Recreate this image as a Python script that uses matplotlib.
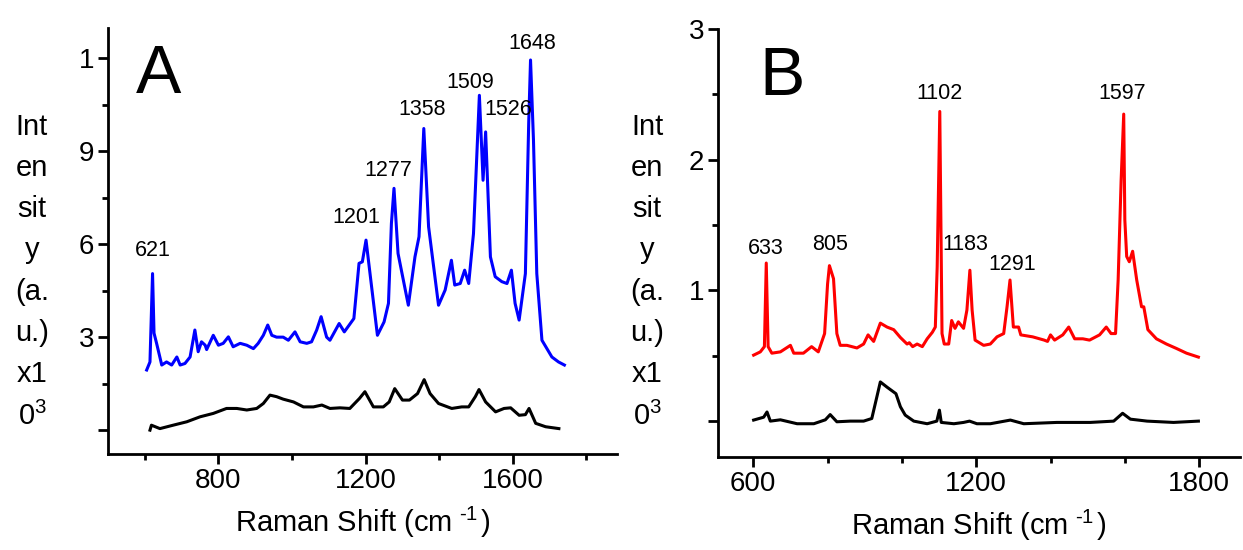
import numpy as np
import matplotlib
matplotlib.use("Agg")
import matplotlib.pyplot as plt

plt.rcParams['font.family'] = ['Liberation Sans', 'DejaVu Sans']
plt.rcParams['mathtext.fontset'] = 'custom'
plt.rcParams['mathtext.rm'] = 'Liberation Sans'
plt.rcParams['mathtext.it'] = 'Liberation Sans'

# ---- panel A: sample (blue) and reference (black), intensity x10^3 ----
a_blue_x = [605, 614, 621, 625, 632, 646, 659, 673, 687, 696, 709, 723, 736, 745, 754, 764, 768,
            786, 800, 813, 827, 840, 859, 877, 895, 908, 922, 934, 945, 958, 976, 990, 1008, 1022,
            1040, 1053, 1067, 1079, 1094, 1103, 1128, 1142, 1168, 1182, 1191, 1201, 1214, 1232,
            1250, 1262, 1270, 1277, 1288, 1316, 1334, 1345, 1358, 1371, 1398, 1416, 1433, 1442,
            1457, 1469, 1480, 1493, 1509, 1519, 1526, 1539, 1552, 1570, 1584, 1596, 1606, 1617,
            1634, 1643, 1648, 1656, 1665, 1679, 1706, 1724, 1740]
a_blue_y = [1.94, 2.2, 5.05, 3.13, 2.8, 2.1, 2.2, 2.1, 2.36, 2.1, 2.15, 2.36, 3.23, 2.53, 2.85, 2.74,
            2.6, 3.06, 2.74, 2.8, 3.01, 2.69, 2.8, 2.74, 2.63, 2.8, 3.06, 3.39, 3.06, 3.0, 3.0, 2.9,
            3.17, 2.85, 2.8, 2.85, 3.23, 3.66, 3.0, 2.9, 3.44, 3.17, 3.6, 5.38, 5.43, 6.13, 4.84,
            3.06, 3.49, 4.09, 6.67, 7.8, 5.7, 4.03, 5.59, 6.24, 9.73, 6.56, 4.03, 4.52, 5.48, 4.68,
            4.73, 5.16, 4.73, 6.34, 10.8, 8.06, 9.62, 5.59, 4.95, 4.79, 4.73, 5.16, 4.09, 3.55,
            5.05, 9.9, 11.94, 9.35, 5.05, 2.9, 2.36, 2.2, 2.1]
a_black_x = [614, 618, 641, 677, 714, 750, 786, 822, 850, 877, 904, 922, 940, 958, 976, 1004, 1031,
             1058, 1081, 1103, 1130, 1157, 1183, 1198, 1221, 1248, 1264, 1279, 1300, 1319, 1341,
             1359, 1375, 1398, 1434, 1461, 1480, 1498, 1508, 1526, 1553, 1576, 1594, 1617, 1634,
             1644, 1662, 1689, 1725]
a_black_y = [0.0, 0.16, 0.05, 0.16, 0.27, 0.43, 0.54, 0.7, 0.7, 0.65, 0.7, 0.86, 1.13, 1.08, 1.0,
             0.91, 0.75, 0.75, 0.81, 0.7, 0.72, 0.7, 1.02, 1.24, 0.75, 0.75, 0.91, 1.34, 0.97,
             0.97, 1.18, 1.63, 1.18, 0.86, 0.7, 0.75, 0.75, 1.08, 1.31, 0.91, 0.59, 0.7, 0.72,
             0.48, 0.5, 0.7, 0.22, 0.11, 0.05]
a_peaks = ["621", "1201", "1277", "1358", "1509", "1526", "1648"]
a_peak_x = [621, 1174, 1261, 1353, 1484, 1587, 1653]
a_peak_y = [5.81, 6.87, 8.37, 10.35, 11.2, 10.35, 12.48]

# ---- panel B ----
b_red_x = [601, 619, 630, 635, 640, 650, 673, 700, 709, 735, 757, 775, 792, 800, 805, 816, 825,
           834, 852, 879, 897, 909, 924, 933, 942, 960, 978, 996, 1014, 1020, 1029, 1041, 1055,
           1068, 1082, 1090, 1095, 1102, 1108, 1114, 1126, 1134, 1143, 1152, 1166, 1175, 1183,
           1189, 1197, 1220, 1238, 1256, 1274, 1283, 1291, 1300, 1314, 1320, 1352, 1383, 1392,
           1400, 1411, 1433, 1449, 1465, 1487, 1505, 1532, 1550, 1563, 1575, 1582, 1590, 1597,
           1600, 1605, 1612, 1621, 1632, 1645, 1651, 1662, 1685, 1712, 1739, 1766, 1798]
b_red_y = [0.505, 0.53, 0.57, 1.21, 0.57, 0.52, 0.53, 0.58, 0.52, 0.52, 0.57, 0.53, 0.67, 1.05,
           1.19, 1.09, 0.67, 0.58, 0.58, 0.56, 0.59, 0.66, 0.61, 0.68, 0.75, 0.72, 0.70, 0.64,
           0.59, 0.6, 0.57, 0.59, 0.57, 0.63, 0.68, 0.72, 1.18, 2.37, 0.67, 0.59, 0.59, 0.77,
           0.71, 0.76, 0.71, 0.85, 1.155, 0.85, 0.62, 0.58, 0.59, 0.645, 0.67, 0.875, 1.08,
           0.72, 0.72, 0.66, 0.645, 0.62, 0.61, 0.66, 0.62, 0.66, 0.72, 0.63, 0.63, 0.62, 0.66,
           0.72, 0.67, 0.67, 1.08, 1.84, 2.35, 1.54, 1.26, 1.22, 1.3, 1.08, 0.875, 0.875, 0.70,
           0.63, 0.59, 0.556, 0.52, 0.49]
b_black_x = [601, 628, 637, 646, 673, 718, 763, 794, 807, 825, 861, 897, 919, 933, 942, 960, 984,
             996, 1009, 1032, 1068, 1094, 1101, 1106, 1140, 1166, 1182, 1202, 1238, 1292, 1328,
             1417, 1507, 1570, 1594, 1615, 1660, 1731, 1798]
b_black_y = [0.008, 0.03, 0.07, 0.0, 0.01, -0.02, -0.02, 0.01, 0.05, -0.005, 0.0, 0.0, 0.02, 0.19,
             0.30, 0.26, 0.21, 0.11, 0.046, 0.0, -0.02, 0.0, 0.084, -0.01, -0.02, -0.01, 0.0,
             -0.02, -0.02, 0.008, -0.02, -0.01, -0.01, 0.0, 0.06, 0.015, 0.0, -0.01, 0.0]
b_peaks = ["633", "805", "1102", "1183", "1291", "1597"]
b_peak_x = [634, 807, 1102, 1172, 1297, 1594]
b_peak_y = [1.32, 1.35, 2.51, 1.35, 1.2, 2.51]

ylabel_txt = "Int\nen\nsit\ny\n(a.\nu.)\nx1\n0$^3$"
xlabel_txt = r"Raman Shift (cm$\,^{\,\text{-}1\,}$)"

fig = plt.figure(figsize=(12.43, 5.5), dpi=100)
axA = fig.add_axes([0.0869, 0.1745, 0.4095, 0.7745])
axB = fig.add_axes([0.5776, 0.169, 0.42, 0.778])


def style(ax):
    for s in ["top", "right"]:
        ax.spines[s].set_visible(False)
    for s in ["left", "bottom"]:
        ax.spines[s].set_linewidth(2.0)
    ax.tick_params(which="major", length=7, width=2, direction="out", labelsize=20, pad=3)
    ax.tick_params(which="minor", length=4, width=2, direction="out")
    ax.set_xlabel(xlabel_txt, fontsize=21, labelpad=8)


axA.plot(a_blue_x, a_blue_y, color="#0000ff", lw=2.2)
axA.plot(a_black_x, a_black_y, color="black", lw=2.2)
axA.set_xlim(500, 1883)
axA.set_ylim(-0.77, 12.97)
axA.set_xticks([800, 1200, 1600])
axA.set_xticks([600, 1000, 1400, 1800], minor=True)
axA.set_yticks([0, 3, 6, 9, 12])
axA.set_yticklabels(["", "3", "6", "9", "1"])
axA.set_yticks([1.5, 4.5, 7.5, 10.5], minor=True)
style(axA)
for t, x, y in zip(a_peaks, a_peak_x, a_peak_y):
    axA.text(x, y, t, fontsize=15.5, ha="center", va="center")
axA.text(0.055, 0.965, "A", transform=axA.transAxes, fontsize=49, ha="left", va="top")
fig.text(32 / 1243, 1 - 272 / 550, ylabel_txt, fontsize=21, ha="center", va="center",
         multialignment="center", linespacing=1.6)

axB.plot(b_red_x, b_red_y, color="#ff0000", lw=2.2)
axB.plot(b_black_x, b_black_y, color="black", lw=2.2)
axB.set_xlim(505, 1910)
axB.set_ylim(-0.275, 3.0)
axB.set_xticks([600, 1200, 1800])
axB.set_xticks([800, 1000, 1400, 1600], minor=True)
axB.set_yticks([0, 1, 2, 3])
axB.set_yticklabels(["", "1", "2", "3"])
axB.set_yticks([0.5, 1.5, 2.5], minor=True)
style(axB)
for t, x, y in zip(b_peaks, b_peak_x, b_peak_y):
    axB.text(x, y, t, fontsize=15.5, ha="center", va="center")
axB.text(0.0785, 0.962, "B", transform=axB.transAxes, fontsize=49, ha="left", va="top")
fig.text(647 / 1243, 1 - 272 / 550, ylabel_txt, fontsize=21, ha="center", va="center",
         multialignment="center", linespacing=1.6)

fig.savefig("out.png", dpi=100)
